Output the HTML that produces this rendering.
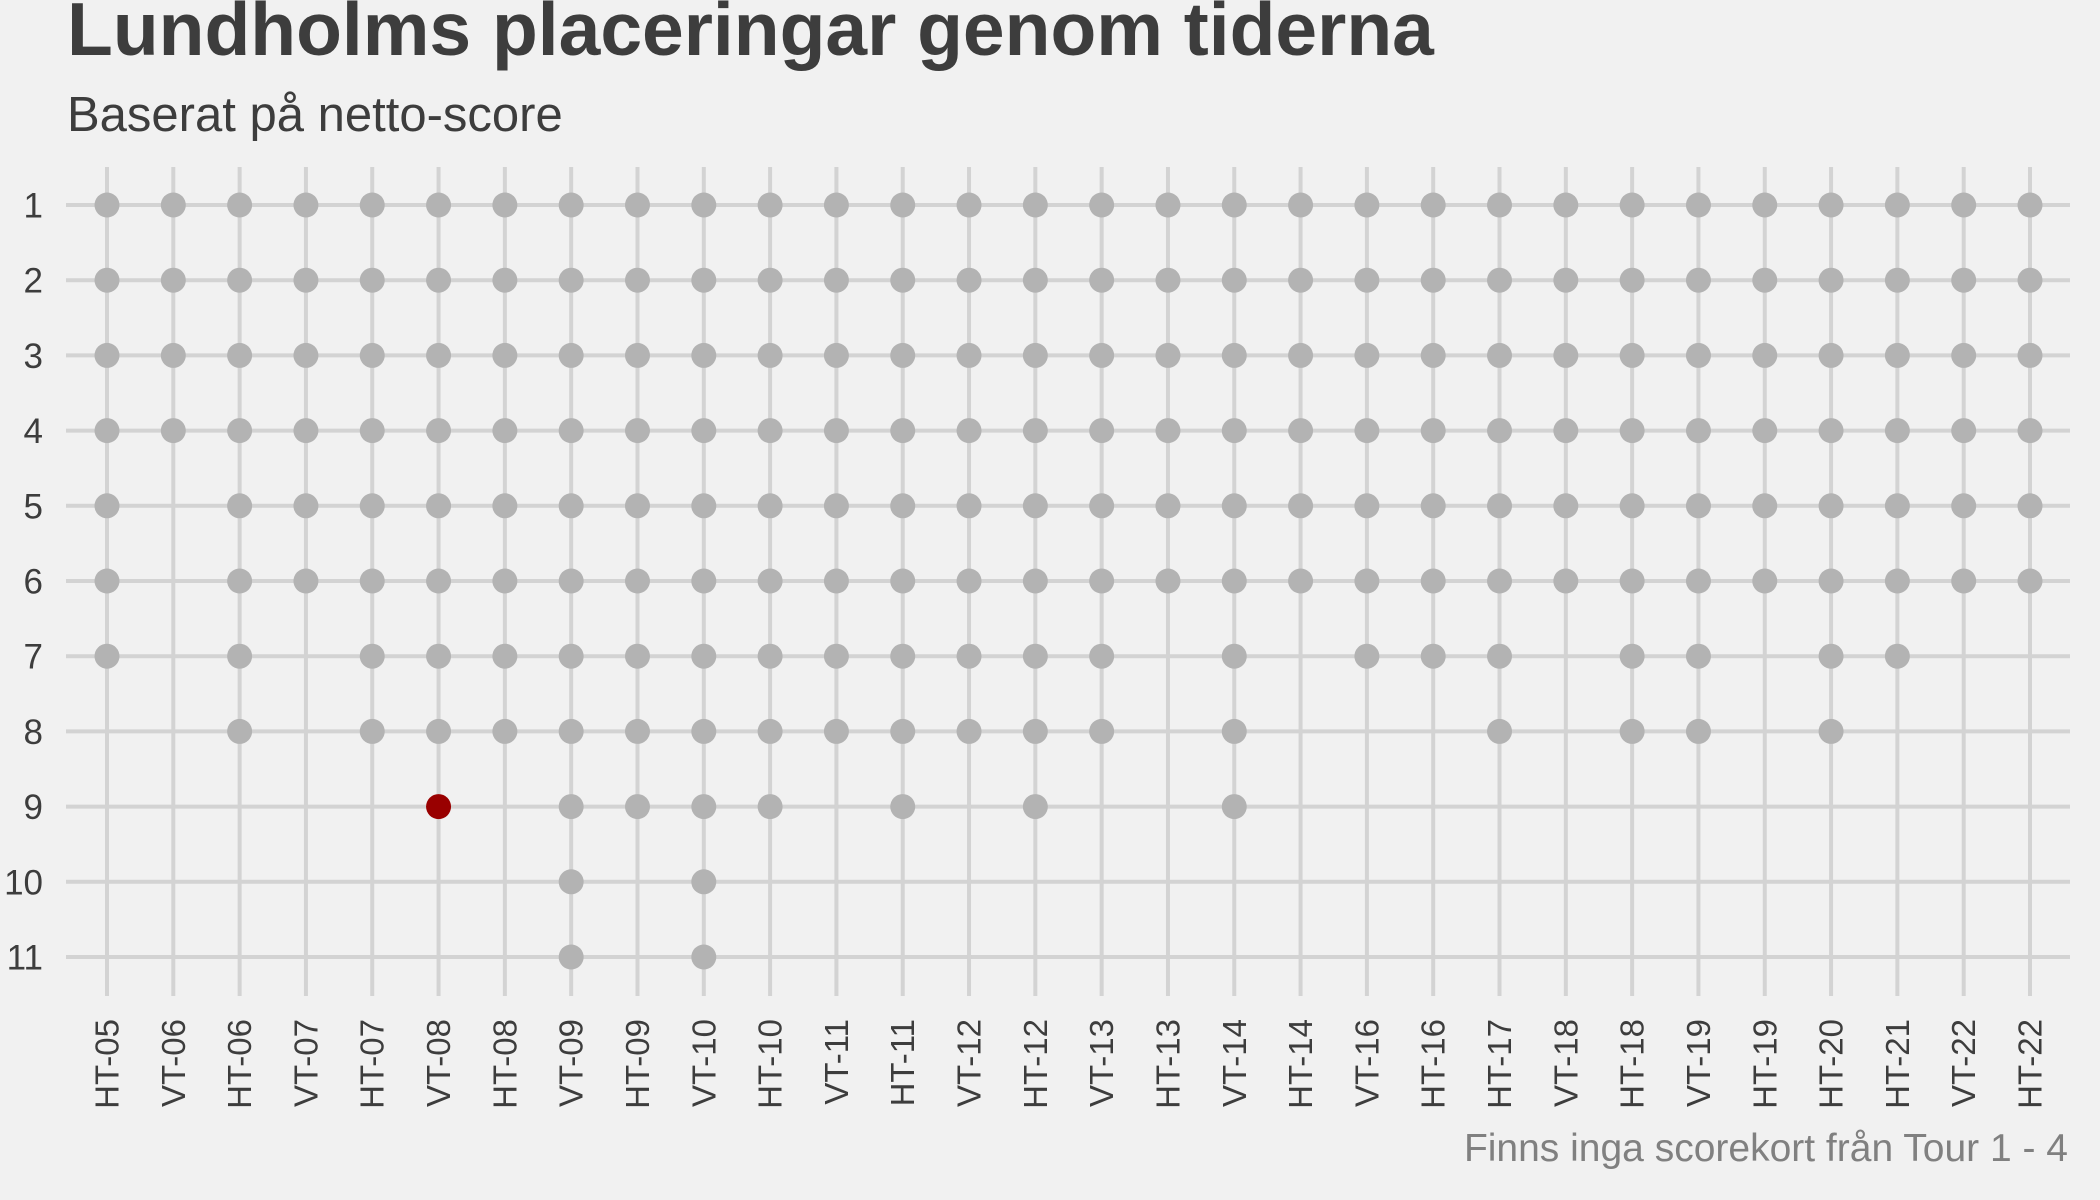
<!DOCTYPE html>
<html><head><meta charset="utf-8"><style>
html,body{margin:0;padding:0;background:#f1f1f1;}
svg{display:block;font-family:"Liberation Sans",sans-serif;}
</style></head><body>
<svg id="chart" width="2100" height="1200" viewBox="0 0 2100 1200">
<rect width="2100" height="1200" fill="#f1f1f1"/>
<text x="67" y="55" font-size="75" font-weight="bold" fill="#3d3d3d">Lundholms placeringar genom tiderna</text>
<text x="67" y="131" font-size="49" fill="#3d3d3d">Baserat på netto-score</text>
<text x="2068" y="1161" font-size="39" fill="#808080" text-anchor="end">Finns inga scorekort från Tour 1 - 4</text>
<g id="grid"></g>
<g id="points"></g>
<g id="yticks"></g>
<g id="xticks"></g>
</svg>
<script>
const categories = ["HT-05","VT-06","HT-06","VT-07","HT-07","VT-08","HT-08","VT-09","HT-09","VT-10","HT-10","VT-11","HT-11","VT-12","HT-12","VT-13","HT-13","VT-14","HT-14","VT-16","HT-16","HT-17","VT-18","HT-18","VT-19","HT-19","HT-20","HT-21","VT-22","HT-22"];
const fieldSize = [7,4,8,6,8,9,8,11,9,11,9,8,9,8,9,8,6,9,6,7,7,8,6,8,8,6,8,7,6,6];
const lundholmPlace = [null,null,null,null,null,9,null,null,null,null,null,null,null,null,null,null,null,null,null,null,null,null,null,null,null,null,null,null,null,null];
const yTicks = [1,2,3,4,5,6,7,8,9,10,11];

const NS = "http://www.w3.org/2000/svg";
const x0 = 107, x1 = 2030, y0 = 205, y1 = 957;
function xPos(i){ return x0 + i*(x1-x0)/(categories.length-1); }
function yPos(v){ return y0 + (v-1)*(y1-y0)/(yTicks.length-1); }
function mk(tag, attrs, parent){
  const e = document.createElementNS(NS, tag);
  for (const k in attrs) e.setAttribute(k, attrs[k]);
  parent.appendChild(e); return e;
}
const grid = document.getElementById('grid');
const pts = document.getElementById('points');
const yt = document.getElementById('yticks');
const xt = document.getElementById('xticks');

yTicks.forEach(v => {
  const l = mk('line', {x1:66, x2:2070, y1:yPos(v), y2:yPos(v), stroke:'#d3d3d3', 'stroke-width':4}, grid);
  
  
  const t = mk('text', {x:43, y:yPos(v)+12.5, 'font-size':35, fill:'#3d3d3d', 'text-anchor':'end'}, yt);
  t.textContent = v;
  
  
});
categories.forEach((c, i) => {
  const x = xPos(i);
  const l = mk('line', {x1:x, x2:x, y1:167, y2:996, stroke:'#d3d3d3', 'stroke-width':4}, grid);
  
  
  const t = mk('text', {x:0, y:0, 'font-size':33, fill:'#3d3d3d', 'text-anchor':'end', 'dominant-baseline':'central', transform:`translate(${x},1019) rotate(-90)`}, xt);
  t.textContent = c;
  
  
  for (let p = 1; p <= fieldSize[i]; p++) {
    const hl = lundholmPlace[i] === p;
    const d = mk('circle', {cx:x, cy:yPos(p), r:12.5, fill: hl ? '#990000' : '#b3b3b3'}, pts);
    
    
  }
});
</script>
</body></html>
